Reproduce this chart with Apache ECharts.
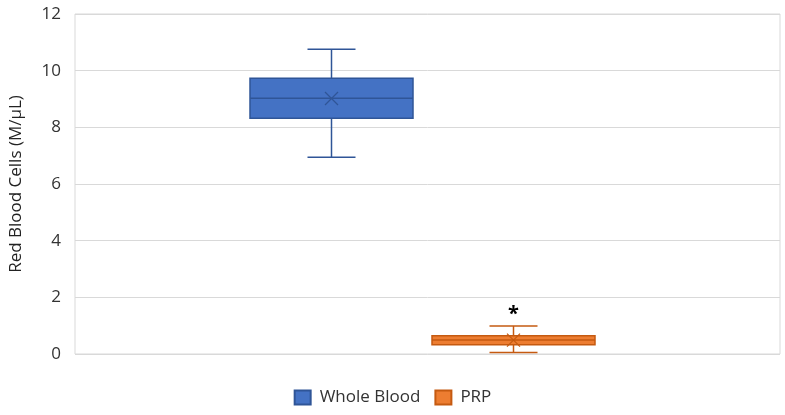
<!DOCTYPE html>
<html>
<head>
<meta charset="utf-8">
<script src="https://cdn.jsdelivr.net/npm/echarts@6/dist/echarts.min.js"></script>
<style>
  html, body { margin: 0; padding: 0; background: #fff; }
  #chart { width: 785px; height: 415px; }
</style>
</head>
<body>
<div id="chart"></div>
<script>
// values
const groups = ['Whole Blood', 'PRP'];
const minVals = [6.94, 0.05];
const q1Vals = [8.32, 0.33];
const medianVals = [9.03, 0.49];
const q3Vals = [9.73, 0.64];
const maxVals = [10.76, 0.99];
const meanVals = [9.02, 0.49];
const sigMarks = ['', '*'];
const yTicks = [0, 2, 4, 6, 8, 10, 12];

const fills = ['#4472C4', '#ED7D31'];
const strokes = ['#2F5597', '#C55A11'];
const offsets = [-96, 86];

const FONT = '"Open Sans", "DejaVu Sans", sans-serif';

function boxRenderer(i) {
  return function (params, api) {
    const cx = api.coord([api.value(0), 0])[0] + offsets[i];
    const y = function (dim) { return api.coord([api.value(0), api.value(dim)])[1]; };
    const yMin = y(1), yQ1 = y(2), yMed = y(3), yQ3 = y(4), yMax = y(5), yMean = y(6);
    const halfBox = 81.5, halfCap = 24, m = 6.5;
    const line = { stroke: strokes[i], lineWidth: 1.5 };
    const children = [
      { type: 'line', shape: { x1: cx, y1: yMax, x2: cx, y2: yQ3 }, style: line },
      { type: 'line', shape: { x1: cx, y1: yQ1, x2: cx, y2: yMin }, style: line },
      { type: 'line', shape: { x1: cx - halfCap, y1: yMax, x2: cx + halfCap, y2: yMax }, style: line },
      { type: 'line', shape: { x1: cx - halfCap, y1: yMin, x2: cx + halfCap, y2: yMin }, style: line },
      { type: 'rect', shape: { x: cx - halfBox, y: yQ3, width: halfBox * 2, height: yQ1 - yQ3 },
        style: { fill: fills[i], stroke: strokes[i], lineWidth: 1.5 } },
      { type: 'line', shape: { x1: cx - halfBox, y1: yMed, x2: cx + halfBox, y2: yMed }, style: line },
      { type: 'line', shape: { x1: cx - m, y1: yMean - m, x2: cx + m, y2: yMean + m }, style: { stroke: strokes[i], lineWidth: 1.3 } },
      { type: 'line', shape: { x1: cx - m, y1: yMean + m, x2: cx + m, y2: yMean - m }, style: { stroke: strokes[i], lineWidth: 1.3 } }
    ];
    if (sigMarks[i]) {
      children.push({
        type: 'text',
        style: { text: sigMarks[i], x: cx, y: yMax - 2, align: 'center', verticalAlign: 'bottom',
          fill: '#000', font: 'bold 20px ' + FONT }
      });
    }
    return { type: 'group', children: children };
  };
}

const series = groups.map(function (name, i) {
  return {
    name: name,
    type: 'custom',
    renderItem: boxRenderer(i),
    itemStyle: { color: fills[i], borderColor: strokes[i], borderWidth: 1 },
    encode: { x: 0, y: [1, 2, 3, 4, 5, 6] },
    data: [[0, minVals[i], q1Vals[i], medianVals[i], q3Vals[i], maxVals[i], meanVals[i]]]
  };
});

const chart = echarts.init(document.getElementById('chart'));
chart.setOption({
  animation: false,
  grid: { left: 74, right: 5, top: 14, bottom: 61, show: true, borderColor: '#d9d9d9', borderWidth: 1 },
  legend: {
    bottom: 4,
    left: 'center',
    icon: 'rect',
    itemWidth: 16,
    itemHeight: 14,
    itemGap: 14,
    textStyle: { fontFamily: FONT, fontSize: 17, color: '#333', padding: [0, 0, 0, 4] },
    data: groups
  },
  xAxis: {
    type: 'category',
    data: [''],
    axisLine: { show: false },
    axisTick: { show: false },
    axisLabel: { show: false }
  },
  yAxis: {
    type: 'value',
    min: yTicks[0],
    max: yTicks[yTicks.length - 1],
    interval: 2,
    name: 'Red Blood Cells (M/µL)',
    nameLocation: 'middle',
    nameGap: 50,
    nameTextStyle: { fontFamily: FONT, fontSize: 17, color: '#222' },
    axisLine: { show: false },
    axisTick: { show: false },
    axisLabel: { margin: 14, fontFamily: FONT, fontSize: 17, color: '#333' },
    splitLine: { lineStyle: { color: '#d9d9d9', width: 1 } }
  },
  series: series
});
</script>
</body>
</html>
